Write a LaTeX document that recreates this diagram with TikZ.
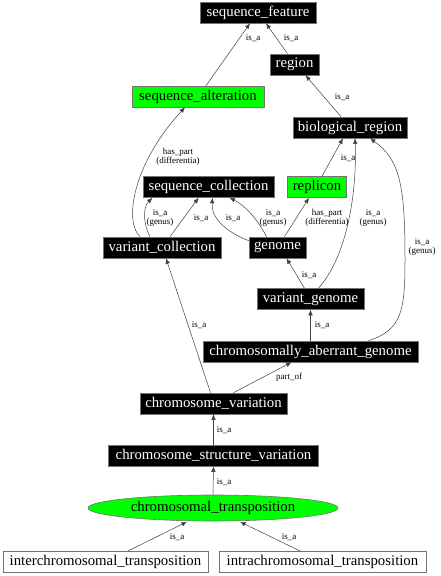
\documentclass[tikz,border=0pt]{standalone}
\usepackage{fontspec}
\setmainfont{Liberation Serif}
\usetikzlibrary{arrows.meta,shapes.geometric}
\begin{document}
\begin{tikzpicture}[x=1pt,y=-1pt,
  base/.style={inner sep=0pt,minimum height=21pt,font=\fontsize{14.8}{16}\selectfont,draw=black!55,line width=0.6pt},
  blk/.style={base,fill=black,text=white},
  grn/.style={base,fill=green,text=black},
  wht/.style={base,fill=white,text=black},
  lbl/.style={font=\fontsize{9}{9}\selectfont,align=center,inner sep=0pt},
  edge/.style={draw=black!75,line width=0.5pt,-{Latex[length=5.5pt,width=4.5pt]}}]
\useasboundingbox (0,0) rectangle (440,576);
% nodes
\node[blk,minimum width=116pt] (sf) at (258,12.5) {sequence\_feature};
\node[blk,minimum width=49pt] (rg) at (294.5,64.5) {region};
\node[grn,minimum width=132pt] (sa) at (198,96.5) {sequence\_alteration};
\node[blk,minimum width=114pt] (br) at (350,127.5) {biological\_region};
\node[blk,minimum width=131pt] (sc) at (208.5,187) {sequence\_collection};
\node[grn,minimum width=59pt] (rp) at (317,187) {replicon};
\node[blk,minimum width=118pt] (vc) at (162,247.5) {variant\_collection};
\node[blk,minimum width=57pt] (gn) at (277.5,247.5) {genome};
\node[blk,minimum width=107pt] (vg) at (310.5,299) {variant\_genome};
\node[blk,minimum width=215pt] (cag) at (310.5,351.5) {chromosomally\_aberrant\_genome};
\node[blk,minimum width=147pt] (cv) at (213.5,403.5) {chromosome\_variation};
\node[blk,minimum width=210pt] (csv) at (213.5,455.5) {chromosome\_structure\_variation};
\node[grn,ellipse,minimum width=250pt,minimum height=26pt] (ct) at (213,508) {chromosomal\_transposition};
\node[wht,minimum width=205pt] (inter) at (105.5,562) {interchromosomal\_transposition};
\node[wht,minimum width=207pt] (intra) at (322.5,562) {intrachromosomal\_transposition};
% edges
\draw[edge] ([xshift=8pt]sa.north) -- ([xshift=-8pt]sf.south);
\draw[edge] ([xshift=-7pt]rg.north) -- ([xshift=8pt]sf.south);
\draw[edge] ([xshift=-9pt]br.north) -- ([xshift=11pt]rg.south);
\draw[edge] ([xshift=5pt]rp.north) -- ([xshift=-7pt]br.south);
\draw[edge] ([xshift=8pt]vg.north) .. controls (348,255) and (357,190) .. ([xshift=5pt]br.south);
\draw[edge] ([xshift=58pt]cag.north) .. controls (402,330) and (405,310) .. (405,260) .. controls (405,185) and (400,160) .. ([xshift=20pt]br.south);
\draw[edge] ([xshift=-22pt]vc.north) .. controls (124,222) and (132,165) .. ([xshift=-13pt]sa.south);
\draw[edge] ([xshift=-12pt]vc.north) .. controls (144,226) and (142,208) .. ([xshift=-56pt]sc.south);
\draw[edge] ([xshift=8pt]vc.north) -- ([xshift=-10pt]sc.south);
\draw[edge] ([yshift=-4pt]gn.north west) .. controls (226,232) and (211,218) .. ([xshift=4pt]sc.south);
\draw[edge] ([xshift=-11pt]gn.north) .. controls (258,220) and (246,206) .. ([xshift=21pt]sc.south);
\draw[edge] ([xshift=7pt]gn.north) -- ([xshift=-8pt]rp.south);
\draw[edge] ([xshift=-6pt]vg.north) -- ([xshift=9pt]gn.south);
\draw[edge] (cag.north) -- (vg.south);
\draw[edge] ([xshift=-3pt]cv.north) -- ([xshift=4pt]vc.south);
\draw[edge] ([xshift=20pt]cv.north) -- ([xshift=-19pt]cag.south);
\draw[edge] (csv.north) -- (cv.south);
\draw[edge] (ct.north) -- (csv.south);
\draw[edge] ([xshift=22pt]inter.north) -- ([xshift=-26pt,yshift=-0.5pt]ct.south);
\draw[edge] ([xshift=-22pt]intra.north) -- ([xshift=27pt,yshift=-0.5pt]ct.south);
% labels
\node[lbl] (l1) at (253,38) {is\_a};
\node[lbl] (l2) at (291,38) {is\_a};
\node[lbl] (l3) at (342,97) {is\_a};
\node[lbl] (l4) at (348,158) {is\_a};
\node[lbl] (l5) at (373,218) {is\_a\\(genus)};
\node[lbl] (l6) at (422,247) {is\_a\\(genus)};
\node[lbl] (l7) at (178,157) {has\_part\\(differentia)};
\node[lbl] (l8) at (160,218) {is\_a\\(genus)};
\node[lbl] (l9) at (201,218) {is\_a};
\node[lbl] (l10) at (233,218) {is\_a};
\node[lbl] (l11) at (273,218) {is\_a\\(genus)};
\node[lbl] (l12) at (327,218) {has\_part\\(differentia)};
\node[lbl] (l13) at (309,275) {is\_a};
\node[lbl] (l14) at (322,325) {is\_a};
\node[lbl] (l15) at (199,325) {is\_a};
\node[lbl] (l16) at (289,377) {part\_of};
\node[lbl] (l17) at (224,430) {is\_a};
\node[lbl] (l18) at (224,482) {is\_a};
\node[lbl] (l19) at (177,537) {is\_a};
\node[lbl] (l20) at (289,537) {is\_a};
\end{tikzpicture}
\end{document}
